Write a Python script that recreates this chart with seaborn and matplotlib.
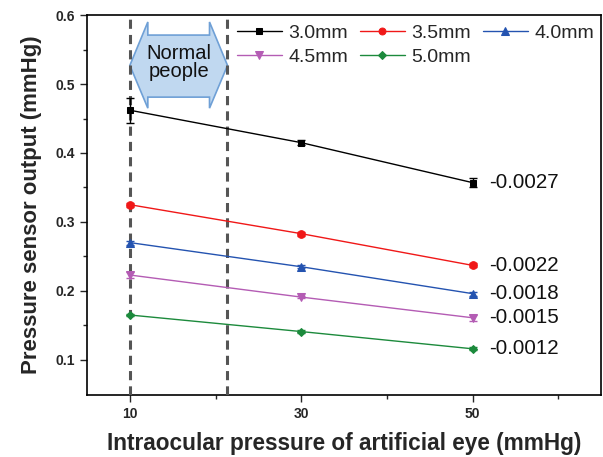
import matplotlib
matplotlib.use("Agg")
import matplotlib.pyplot as plt
from matplotlib.patches import Polygon
import numpy as np
import pandas as pd
import seaborn as sns

# Intraocular pressure settings (mmHg)
pressure = [10, 30, 50]
series_names = ["3.0mm", "3.5mm", "4.0mm", "4.5mm", "5.0mm"]

# Sensor output for each sensor diameter
out_30 = [0.462, 0.415, 0.357]
out_35 = [0.325, 0.283, 0.237]
out_40 = [0.270, 0.235, 0.196]
out_45 = [0.223, 0.191, 0.161]
out_50 = [0.165, 0.141, 0.116]

# Standard deviations
err_30 = [0.018, 0.004, 0.006]
err_35 = [0.003, 0.003, 0.003]
err_40 = [0.003, 0.002, 0.003]
err_45 = [0.004, 0.002, 0.004]
err_50 = [0.002, 0.002, 0.002]

# Fitted sensitivities (slopes)
slopes = ["-0.0027", "-0.0022", "-0.0018", "-0.0015", "-0.0012"]

colors = ["#000000", "#f01818", "#2453b0", "#b45cb4", "#1c8a3c"]
markers = ["s", "o", "^", "v", "D"]
msizes = [5, 5.5, 6, 6, 4.5]

values = [out_30, out_35, out_40, out_45, out_50]
errors = [err_30, err_35, err_40, err_45, err_50]

rows = []
for name, vals, errs in zip(series_names, values, errors):
    for p, v, e in zip(pressure, vals, errs):
        rows.append({"pressure": p, "output": v, "err": e, "size": name})
df = pd.DataFrame(rows)

sns.set_style("ticks")
plt.rcParams["font.family"] = ["Liberation Sans", "DejaVu Sans"]

fig = plt.figure(figsize=(6.03, 4.57), dpi=100)
ax = fig.add_axes([0.1443, 0.1357, 0.8524, 0.8313])

# Normal IOP range boundaries
for xv in (10, 21.3):
    ax.axvline(xv, color="#555555", lw=2.2, ls=(0, (3, 2)), zorder=5)

for i, name in enumerate(series_names):
    sub = df[df["size"] == name]
    ax.errorbar(sub["pressure"], sub["output"], yerr=sub["err"], fmt="none",
                ecolor=colors[i], elinewidth=1, capsize=3, capthick=1, zorder=6)
    sns.lineplot(data=sub, x="pressure", y="output", ax=ax, color=colors[i],
                 marker=markers[i], markersize=msizes[i], markeredgecolor=colors[i],
                 lw=1, label=name, zorder=7)
    ax.text(sub["pressure"].iloc[-1] + 1.9, sub["output"].iloc[-1], slopes[i],
            fontsize=14.8, va="center", ha="left", color="#111111")

ax.set_xlim(5, 65)
ax.set_ylim(0.049, 0.6)
ax.set_xticks([10, 30, 50])
ax.set_xticks([20, 40, 60], minor=True)
ax.set_yticks([0.1, 0.2, 0.3, 0.4, 0.5, 0.6])
ax.set_yticks([0.15, 0.25, 0.35, 0.45, 0.55], minor=True)
ax.tick_params(axis="both", which="major", direction="out", length=5, width=1,
               labelsize=10)
ax.tick_params(axis="both", which="minor", direction="out", length=3, width=1)
for lab in ax.get_xticklabels() + ax.get_yticklabels():
    lab.set_fontweight("bold")
for sp in ax.spines.values():
    sp.set_visible(True)
    sp.set_linewidth(1.2)
    sp.set_color("black")

ax.set_xlabel("Intraocular pressure of artificial eye (mmHg)", fontsize=16.3,
              fontweight="bold", labelpad=8)
ax.set_ylabel("Pressure sensor output (mmHg)", fontsize=16,
              fontweight="bold", labelpad=10)

# Double-headed arrow marking the normal range
arrow_pts = [
    (10.0, 0.527), (12.1, 0.590), (12.1, 0.571), (19.3, 0.571), (19.3, 0.590),
    (21.4, 0.527), (19.3, 0.465), (19.3, 0.481), (12.1, 0.481), (12.1, 0.465),
]
ax.add_patch(Polygon(arrow_pts, closed=True, facecolor="#c0d8f0",
                     edgecolor="#6fa0d6", lw=1.2, zorder=3))
ax.text(15.7, 0.531, "Normal\npeople", ha="center", va="center", fontsize=14.5,
        linespacing=0.95, zorder=4, color="#111111")

# Legend laid out row by row
handles, labels = ax.get_legend_handles_labels()
order = [0, 3, 1, 4, 2]
leg = ax.legend([handles[k] for k in order], [labels[k] for k in order],
                ncol=3, loc="upper left", bbox_to_anchor=(0.292, 0.975),
                frameon=False, fontsize=14, handlelength=2.3, handletextpad=0.35,
                columnspacing=0.6, labelspacing=0.3, borderaxespad=0.0,
                borderpad=0.0, markerscale=0.9)

fig.savefig("out.png", dpi=100)
